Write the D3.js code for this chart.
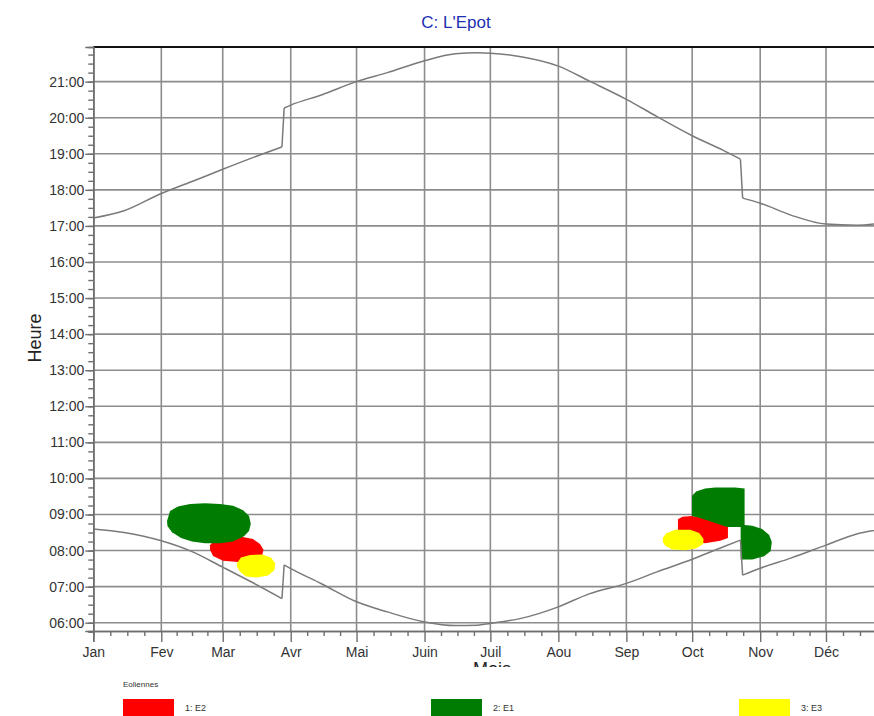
<!DOCTYPE html>
<html>
<head>
<meta charset="utf-8">
<script src="https://cdn.jsdelivr.net/npm/d3@7"></script>
<style>
  body { margin: 0; background: #fff; }
  text { font-family: "Liberation Sans", Arial, sans-serif; }
</style>
</head>
<body>
<div id="canvas"></div>
<script>
var width = 874;
var height = 716;

// month labels and the day of year each month starts on
const months = ["Jan", "Fev", "Mar", "Avr", "Mai", "Juin", "Juil", "Aou", "Sep", "Oct", "Nov", "Déc"];
const monthStart = [0, 31, 59, 90, 120, 151, 181, 212, 243, 273, 304, 334];

// sun curve (decimal hours, local time)
const sunDates = ["01-01", "01-15", "02-01", "02-15", "03-01", "03-15", "03-28", "03-29", "04-01", "04-15",
                  "05-01", "05-15", "06-01", "06-15", "06-25", "07-01", "07-15", "08-01", "08-15", "09-01",
                  "09-15", "10-01", "10-15", "10-23", "10-24", "11-01", "11-15", "12-01", "12-15", "12-31"];
const sunset  = [17.22, 17.42, 17.90, 18.23, 18.57, 18.90, 19.19, 20.27, 20.35, 20.63,
                 21.00, 21.25, 21.58, 21.77, 21.80, 21.79, 21.69, 21.43, 21.02, 20.51,
                 20.03, 19.50, 19.10, 18.85, 17.77, 17.63, 17.30, 17.05, 17.02, 17.12];
const sunrise = [8.60, 8.50, 8.27, 7.97, 7.54, 7.10, 6.67, 7.60, 7.50, 7.08,
                 6.58, 6.30, 6.02, 5.92, 5.93, 5.98, 6.12, 6.44, 6.80, 7.09,
                 7.41, 7.76, 8.10, 8.29, 7.32, 7.51, 7.79, 8.15, 8.46, 8.62];

// shadow areas per turbine: [day of year, hour]
const turbines = ["1: E2", "2: E1", "3: E3"];
const turbineColors = ["#ff0000", "#007d00", "#ffff00"];
const e2Shapes = [
  [[53.2, 8.15], [55.0, 8.28], [60.0, 8.36], [66.9, 8.39], [72.8, 8.32], [76.0, 8.18], [77.6, 8.02],
   [76.9, 7.85], [72.4, 7.72], [66.0, 7.68], [59.1, 7.72], [54.6, 7.85], [53.2, 8.02]],
  [[266.5, 8.57], [266.5, 8.87], [268.5, 8.94], [273.0, 8.96], [281.2, 8.86], [289.3, 8.65], [289.3, 8.35],
   [285.8, 8.27], [278.9, 8.20], [273.0, 8.25], [268.5, 8.38], [266.6, 8.49]]
];
const e1Shapes = [
  [[33.6, 8.82], [35.0, 9.10], [38.6, 9.22], [44.1, 9.29], [50.9, 9.31], [57.8, 9.29], [63.7, 9.24],
   [68.3, 9.12], [71.0, 8.96], [71.8, 8.74], [71.0, 8.54], [68.7, 8.40], [63.7, 8.25], [57.8, 8.20],
   [50.9, 8.20], [45.0, 8.25], [40.0, 8.35], [35.9, 8.51], [33.8, 8.68]],
  [[272.9, 8.96], [272.9, 9.51], [274.8, 9.64], [278.9, 9.72], [283.5, 9.75], [292.6, 9.75], [296.9, 9.72],
   [296.9, 8.71], [300.4, 8.69], [304.9, 8.60], [308.1, 8.43], [309.3, 8.24], [308.8, 7.99], [305.8, 7.84],
   [300.4, 7.75], [295.1, 7.75], [295.1, 8.65], [288.9, 8.65], [282.1, 8.79], [276.6, 8.90]]
];
const e3Shapes = [
  [[65.5, 7.65], [67.3, 7.81], [71.5, 7.88], [76.9, 7.89], [81.0, 7.81], [82.9, 7.65], [82.6, 7.46],
   [79.7, 7.31], [74.6, 7.25], [69.6, 7.28], [66.9, 7.41], [65.5, 7.55]],
  [[259.6, 8.35], [261.1, 8.47], [265.2, 8.58], [272.1, 8.58], [276.2, 8.49], [278.2, 8.32], [278.0, 8.18],
   [274.8, 8.06], [269.8, 8.01], [263.9, 8.03], [260.7, 8.13], [259.6, 8.24]]
];

var plotLeft = 93.3, plotRight = 894, plotTop = 47, plotBottom = 631;

var svg = d3.select("#canvas").append("svg")
      .attr("width", width)
      .attr("height", height)

function doy(s) {
  var p = s.split("-");
  return monthStart[+p[0] - 1] + (+p[1] - 1);
}

const x = d3.scaleLinear().domain([0, 365]).range([plotLeft, plotRight]);
const y = d3.scaleLinear().domain([5.77, 21.96]).range([plotBottom, plotTop]);

var gridColor = "#8c8c8c";

// title
svg.append("text")
  .attr("x", 456).attr("y", 28)
  .attr("text-anchor", "middle")
  .attr("font-size", 17)
  .attr("fill", "#2030b0")
  .text("C: L'Epot");

// grid
var hours = d3.range(6, 22);
svg.append("g").selectAll("line")
  .data(hours).enter().append("line")
  .attr("x1", plotLeft).attr("x2", plotRight)
  .attr("y1", d => y(d)).attr("y2", d => y(d))
  .attr("stroke", gridColor).attr("stroke-width", 1.6);

svg.append("g").selectAll("line")
  .data(monthStart.slice(1)).enter().append("line")
  .attr("x1", d => x(d)).attr("x2", d => x(d))
  .attr("y1", plotTop).attr("y2", plotBottom)
  .attr("stroke", gridColor).attr("stroke-width", 1.6);

// shadow areas (drawn in order E2, E1, E3)
var area = d3.line().x(d => x(d[0])).y(d => y(d[1])).curve(d3.curveLinearClosed);
[e2Shapes, e1Shapes, e3Shapes].forEach(function(shapes, i) {
  svg.append("g").selectAll("path")
    .data(shapes).enter().append("path")
    .attr("d", area)
    .attr("fill", turbineColors[i]);
});

// sunrise / sunset: smooth pieces, straight one-day steps at the clock changes
var smooth = d3.line().x(d => x(d[0])).y(d => y(d[1])).curve(d3.curveMonotoneX);
var straight = d3.line().x(d => x(d[0])).y(d => y(d[1]));
[sunrise, sunset].forEach(function(vals) {
  var pts = vals.map((v, i) => [doy(sunDates[i]), v]);
  var pieces = [[pts[0]]], steps = [];
  for (var i = 1; i < pts.length; i++) {
    if (pts[i][0] - pts[i - 1][0] === 1) {
      steps.push([pts[i - 1], pts[i]]);
      pieces.push([pts[i]]);
    } else {
      pieces[pieces.length - 1].push(pts[i]);
    }
  }
  var g = svg.append("g")
    .attr("fill", "none")
    .attr("stroke", "#7a7a7a")
    .attr("stroke-width", 1.5);
  g.selectAll(".piece").data(pieces).enter().append("path").attr("class", "piece").attr("d", smooth);
  g.selectAll(".step").data(steps).enter().append("path").attr("class", "step").attr("d", straight);
});

// top border
svg.append("line")
  .attr("x1", plotLeft).attr("x2", plotRight)
  .attr("y1", plotTop).attr("y2", plotTop)
  .attr("stroke", "#111").attr("stroke-width", 2);

// x axis
var minorX = [];
monthStart.forEach(function(m, i) {
  var next = i < 11 ? monthStart[i + 1] : 365;
  for (var k = 1; k < 4; k++) minorX.push(m + (next - m) * k / 4);
});
var xMinor = svg.append("g")
  .attr("transform", "translate(0," + plotBottom + ")")
  .call(d3.axisBottom(x).tickValues(minorX).tickSize(5).tickFormat(""));
var xAxis = svg.append("g")
  .attr("transform", "translate(0," + plotBottom + ")")
  .call(d3.axisBottom(x).tickValues(monthStart).tickSize(11).tickPadding(5)
    .tickFormat((d, i) => months[i]));

// y axis
var yMinor = svg.append("g")
  .attr("transform", "translate(" + plotLeft + ",0)")
  .call(d3.axisLeft(y).tickValues(d3.range(5.75, 22, 0.25)).tickSize(5).tickFormat(""));
var yAxis = svg.append("g")
  .attr("transform", "translate(" + plotLeft + ",0)")
  .call(d3.axisLeft(y).tickValues(hours).tickSize(8).tickPadding(1)
    .tickFormat(d => d3.format("02")(d) + ":00"));

[xMinor, xAxis, yMinor, yAxis].forEach(function(g) {
  g.select(".domain").attr("stroke", "#6e6e6e").attr("stroke-width", 1.6);
  g.selectAll(".tick line").attr("stroke", "#6e6e6e").attr("stroke-width", 1.4);
  g.selectAll(".tick text")
    .attr("font-family", "'Liberation Sans', Arial, sans-serif")
    .attr("font-size", 14)
    .attr("fill", "#333");
});

// axis titles
svg.append("text")
  .attr("transform", "translate(41,338) rotate(-90)")
  .attr("text-anchor", "middle")
  .attr("font-size", 18)
  .attr("fill", "#222")
  .text("Heure");

svg.append("text")
  .attr("x", 492).attr("y", 675)
  .attr("text-anchor", "middle")
  .attr("font-size", 18)
  .attr("fill", "#222")
  .text("Mois");

// the legend panel covers the lower part of "Mois"
svg.append("rect")
  .attr("x", 0).attr("y", 667)
  .attr("width", width).attr("height", height - 667)
  .attr("fill", "#fff");

svg.append("text")
  .attr("x", 123).attr("y", 687)
  .attr("font-size", 8)
  .attr("fill", "#333")
  .text("Eoliennes");

var legendX = [123, 431, 739];
var lg = svg.append("g").selectAll("g")
  .data(turbines).enter().append("g")
  .attr("transform", (d, i) => "translate(" + legendX[i] + ",699)");
lg.append("rect")
  .attr("width", 51).attr("height", 20)
  .attr("fill", (d, i) => turbineColors[i]);
lg.append("text")
  .attr("x", 62).attr("y", 12)
  .attr("font-size", 9)
  .attr("fill", "#333")
  .text(d => d);
</script>
</body>
</html>
